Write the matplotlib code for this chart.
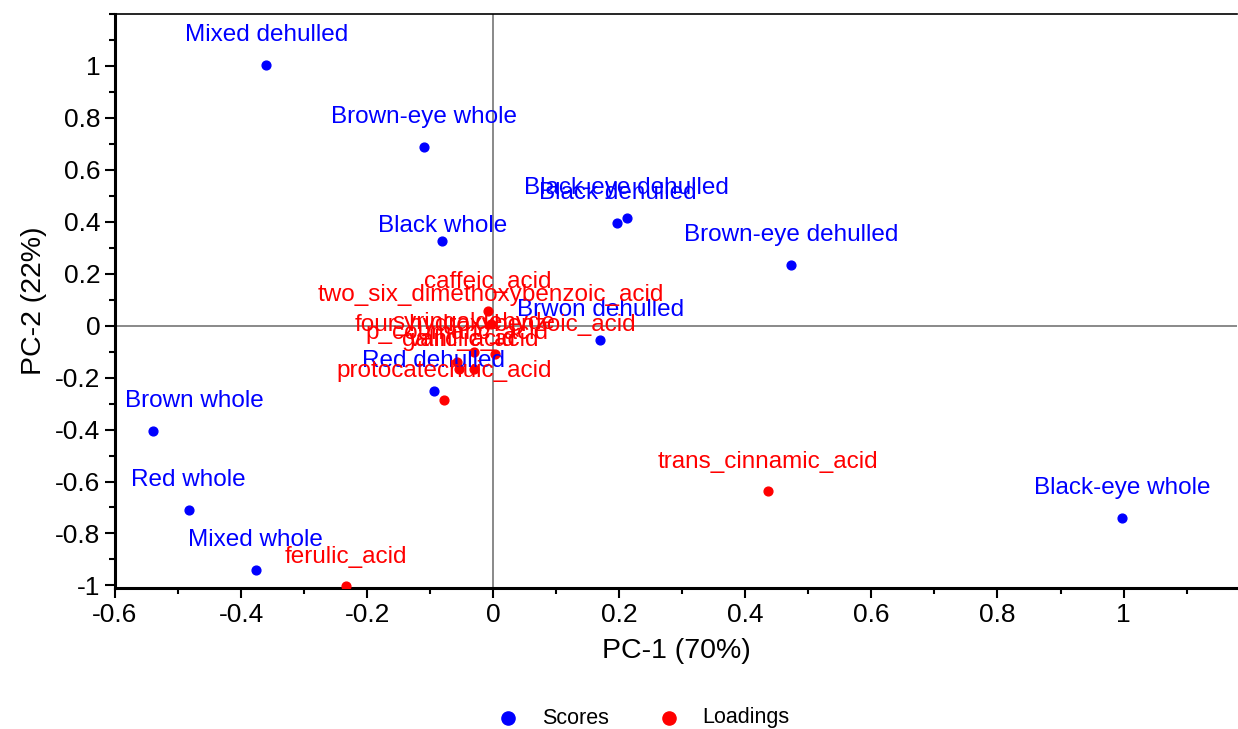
import numpy as np
import matplotlib.pyplot as plt
from matplotlib.ticker import MultipleLocator

plt.rcParams['font.family'] = ['Liberation Sans', 'DejaVu Sans']

# PCA scores (samples)
score_names = ['Mixed dehulled', 'Brown-eye whole', 'Black whole', 'Black-eye dehulled',
               'Black dehulled', 'Brown-eye dehulled', 'Brwon dehulled', 'Red dehulled',
               'Brown whole', 'Red whole', 'Mixed whole', 'Black-eye whole']
score_pc1 = [-0.36, -0.109, -0.081, 0.212, 0.197, 0.472, 0.170, -0.094, -0.540, -0.483, -0.377, 0.998]
score_pc2 = [1.004, 0.688, 0.327, 0.415, 0.396, 0.235, -0.054, -0.250, -0.404, -0.708, -0.942, -0.742]

# PCA loadings (phenolic compounds)
load_names = ['caffeic_acid', 'two_six_dimethoxybenzoic_acid', 'four_hydroxybenzoic_acid',
              'syringaldehyde', 'p_coumaric_acid', 'gallic_acid', 'vanillic_acid',
              'protocatechuic_acid', 'ferulic_acid', 'trans_cinnamic_acid']
load_pc1 = [-0.008, -0.003, 0.003, -0.030, -0.058, -0.055, -0.030, -0.078, -0.233, 0.436]
load_pc2 = [0.058, 0.008, -0.108, -0.100, -0.140, -0.165, -0.165, -0.288, -1.004, -0.638]

fig = plt.figure(figsize=(12.38, 7.29), dpi=100)
ax = fig.add_axes([115/1238, (729-588)/729, (1238-116)/1238, (588-14)/729])

ax.axhline(0, color='#808080', lw=1.3, zorder=1)
ax.axvline(0, color='#808080', lw=1.3, zorder=1)

ax.scatter(score_pc1, score_pc2, s=40, color='#0000ff', zorder=3, label='Scores')
ax.scatter(load_pc1, load_pc2, s=40, color='#ff0000', zorder=3, label='Loadings')

# label offsets in pixels (most sit 30 px above the point)
for name, x, y in zip(score_names, score_pc1, score_pc2):
    dx, dy = 0, 30
    if name == 'Brown whole':
        dx = 42
    if name == 'Black whole':
        dy = 15
    ax.annotate(name, (x, y), xytext=(dx, dy), textcoords='offset pixels',
                ha='center', va='center', color='#0000ff', fontsize=17.5, zorder=4)

for name, x, y in zip(load_names, load_pc1, load_pc2):
    ax.annotate(name, (x, y), xytext=(0, 29), textcoords='offset pixels',
                ha='center', va='center', color='#ff0000', fontsize=17.5, zorder=4)

ax.set_xlim(-0.6, 1.18)
ax.set_ylim(-1.01, 1.2)
ax.xaxis.set_minor_locator(MultipleLocator(0.1))
ax.yaxis.set_minor_locator(MultipleLocator(0.1))
ax.set_xticks(np.arange(-0.6, 1.01, 0.2))
ax.set_xticklabels(['-0.6', '-0.4', '-0.2', '0', '0.2', '0.4', '0.6', '0.8', '1'])
ax.set_yticks(np.arange(-1.0, 1.01, 0.2))
ax.set_yticklabels(['-1', '-0.8', '-0.6', '-0.4', '-0.2', '0', '0.2', '0.4', '0.6', '0.8', '1'])
ax.tick_params(which='major', direction='out', length=7, width=1.5, labelsize=19, colors='black')
ax.tick_params(which='minor', direction='out', length=4, width=1.5)

for side in ['left', 'bottom']:
    ax.spines[side].set_linewidth(2.2)
ax.spines['top'].set_linewidth(1.2)
ax.spines['right'].set_visible(False)

ax.set_xlabel('PC-1 (70%)', fontsize=20.5, labelpad=8)
ax.set_ylabel('PC-2 (22%)', fontsize=20.5, labelpad=6)

fig.legend(loc='center', bbox_to_anchor=(638/1238, 1 - 718/729), ncol=2, frameon=False,
           fontsize=15.5, markerscale=1.5, handletextpad=0.55, columnspacing=1.8)

fig.savefig('out.png', dpi=100)
